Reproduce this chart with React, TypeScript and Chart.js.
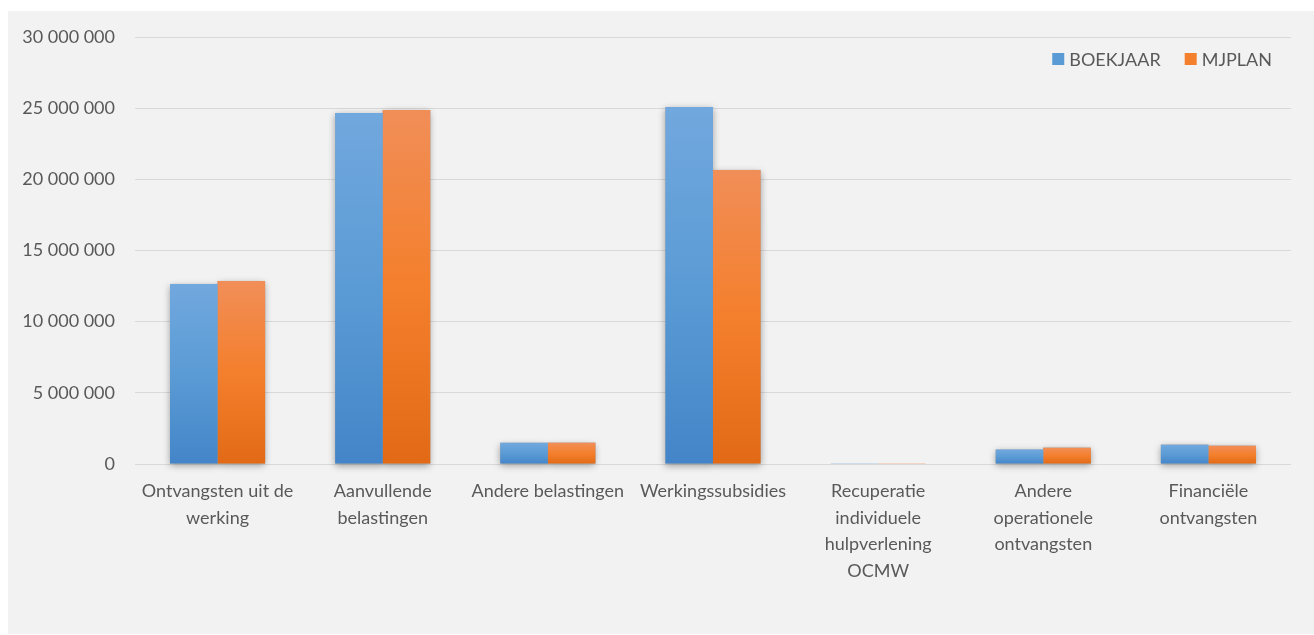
import React, { useEffect, useRef } from "react";
import { Chart, registerables } from "chart.js";

Chart.register(...registerables);

const categories: (string | string[])[] = [
  ["Ontvangsten uit de", "werking"],
  ["Aanvullende", "belastingen"],
  "Andere belastingen",
  "Werkingssubsidies",
  ["Recuperatie", "individuele", "hulpverlening", "OCMW"],
  ["Andere", "operationele", "ontvangsten"],
  ["Financiële", "ontvangsten"],
];

const boekjaar = [12650000, 24660000, 1490000, 25080000, 60000, 1010000, 1360000];
const mjplan = [12860000, 24870000, 1500000, 20660000, 55000, 1150000, 1290000];

const seriesNames = ["BOEKJAAR", "MJPLAN"];

const yMin = 0;
const yMax = 30000000;
const yStep = 5000000;

const TEXT = "#595959";
const FONT = "Lato";

const blue = { top: "#71a8de", mid: "#5b9bd5", bot: "#4385c8" };
const orange = { top: "#f18e58", mid: "#f47f2c", bot: "#e26a16" };

function gradientFill(pal: { top: string; mid: string; bot: string }) {
  return (ctx: any) => {
    const chart = ctx.chart;
    if (!chart.chartArea || ctx.type !== "data") return pal.mid;
    const y = chart.scales.y;
    if (!y) return pal.mid;
    const top = y.getPixelForValue(ctx.raw as number);
    const base = y.getPixelForValue(0);
    if (!isFinite(top) || !isFinite(base) || Math.abs(base - top) < 0.5) return pal.mid;
    const g = chart.ctx.createLinearGradient(0, top, 0, base);
    g.addColorStop(0, pal.top);
    g.addColorStop(0.5, pal.mid);
    g.addColorStop(1, pal.bot);
    return g;
  };
}

const shadowPlugin = {
  id: "barShadow",
  beforeDatasetsDraw(chart: any) {
    const ctx = chart.ctx;
    ctx.save();
    ctx.shadowColor = "rgba(0,0,0,0.35)";
    ctx.shadowBlur = 7;
    ctx.shadowOffsetX = 0;
    ctx.shadowOffsetY = 2;
    ctx.fillStyle = "#9a9a9a";
    chart.data.datasets.forEach((_: any, i: number) => {
      const meta = chart.getDatasetMeta(i);
      meta.data.forEach((el: any) => {
        const p = el.getProps(["x", "y", "base", "width"], true);
        const top = Math.min(p.y, p.base);
        const h = Math.abs(p.base - p.y);
        if (h < 0.5) return;
        ctx.fillRect(p.x - p.width / 2, top, p.width, h);
      });
    });
    ctx.restore();
  },
};

const legendPlugin = {
  id: "customLegend",
  afterDraw(chart: any) {
    const ctx = chart.ctx;
    const area = chart.chartArea;
    ctx.save();
    ctx.font = `18px ${FONT}`;
    ctx.textBaseline = "middle";
    ctx.textAlign = "left";
    const box = 12;
    const gapText = 5;
    const gapItem = 24;
    const colors = [blue.mid, orange.mid];
    const widths = seriesNames.map((n) => ctx.measureText(n).width);
    let total = 0;
    widths.forEach((w, i) => {
      total += box + gapText + w + (i < widths.length - 1 ? gapItem : 0);
    });
    let x = area.right - 19 - total;
    const by = area.top + 16;
    seriesNames.forEach((n, i) => {
      ctx.fillStyle = colors[i];
      ctx.fillRect(x, by, box, box);
      ctx.fillStyle = TEXT;
      ctx.fillText(n, x + box + gapText, by + box / 2 + 1);
      x += box + gapText + widths[i] + gapItem;
    });
    ctx.restore();
  },
};

function fmt(v: number) {
  return String(Math.round(v)).replace(/\B(?=(\d{3})+(?!\d))/g, " ");
}

export default function App() {
  const ref = useRef<HTMLCanvasElement | null>(null);

  useEffect(() => {
    if (!ref.current) return;
    Chart.defaults.font.family = FONT;
    const chart = new Chart(ref.current, {
      type: "bar",
      data: {
        labels: categories,
        datasets: [
          {
            label: seriesNames[0],
            data: boekjaar,
            backgroundColor: gradientFill(blue),
            borderWidth: 0,
            categoryPercentage: 0.576,
            barPercentage: 1,
          },
          {
            label: seriesNames[1],
            data: mjplan,
            backgroundColor: gradientFill(orange),
            borderWidth: 0,
            categoryPercentage: 0.576,
            barPercentage: 1,
          },
        ],
      },
      options: {
        responsive: false,
        animation: false,
        devicePixelRatio: 1,
        layout: { padding: { left: 0, top: 26, right: 23, bottom: 0 } },
        plugins: {
          legend: { display: false },
          tooltip: { enabled: false },
        },
        scales: {
          x: {
            grid: { display: false, drawTicks: false },
            border: { display: false },
            ticks: {
              color: TEXT,
              font: { size: 18, family: FONT, lineHeight: 1.48 },
              padding: 14,
              maxRotation: 0,
              minRotation: 0,
              autoSkip: false,
            },
            afterFit(scale: any) {
              scale.height = 170;
            },
          },
          y: {
            min: yMin,
            max: yMax,
            grid: {
              color: "#d9d9d9",
              lineWidth: 1,
              drawTicks: true,
              tickLength: 16,
              tickColor: "rgba(0,0,0,0)",
            },
            border: { display: false },
            ticks: {
              stepSize: yStep,
              color: TEXT,
              font: { size: 18, family: FONT },
              padding: 4,
              callback: (v: any) => fmt(Number(v)),
            },
            afterFit(scale: any) {
              scale.width = 127;
            },
          },
        },
      },
      plugins: [shadowPlugin, legendPlugin],
    });
    return () => chart.destroy();
  }, []);

  return (
    <div
      style={{
        position: "absolute",
        left: 8,
        top: 11,
        width: 1306,
        height: 623,
        background: "#f2f2f2",
      }}
    >
      <canvas ref={ref} width={1306} height={623} style={{ display: "block" }} />
    </div>
  );
}
